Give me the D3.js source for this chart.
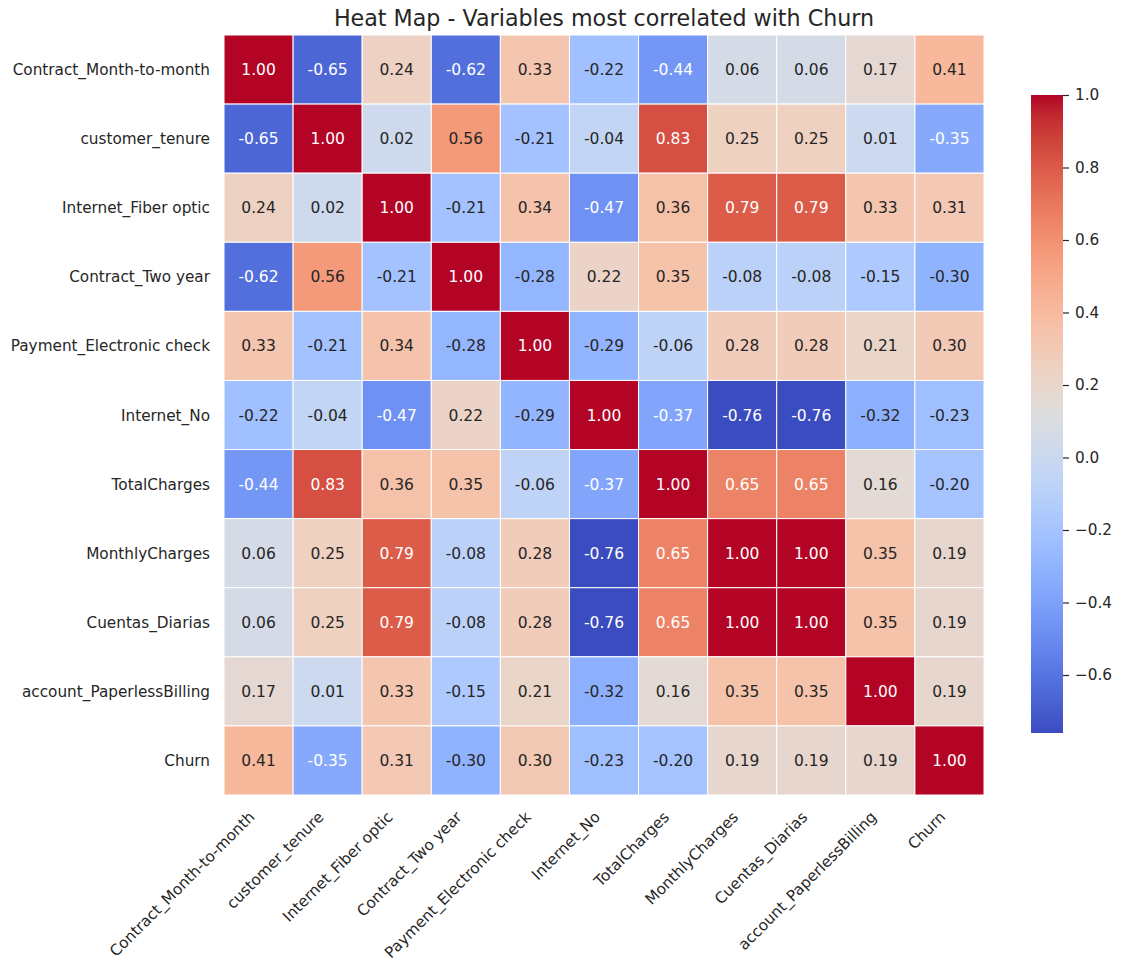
<!DOCTYPE html>
<html><head><meta charset="utf-8">
<script src="https://cdn.jsdelivr.net/npm/d3@7"></script>
<style>body{margin:0;background:#fff}svg{display:block;font-family:"DejaVu Sans",sans-serif}</style>
</head><body><svg id="c" width="1123" height="971"></svg>
<script>
const variables = ["Contract_Month-to-month","customer_tenure","Internet_Fiber optic","Contract_Two year","Payment_Electronic check","Internet_No","TotalCharges","MonthlyCharges","Cuentas_Diarias","account_PaperlessBilling","Churn"];
const rowContract = [1.00,-0.65,0.24,-0.62,0.33,-0.22,-0.44,0.06,0.06,0.17,0.41];
const rowTenure   = [-0.65,1.00,0.02,0.56,-0.21,-0.04,0.83,0.25,0.25,0.01,-0.35];
const rowFiber    = [0.24,0.02,1.00,-0.21,0.34,-0.47,0.36,0.79,0.79,0.33,0.31];
const rowTwoYear  = [-0.62,0.56,-0.21,1.00,-0.28,0.22,0.35,-0.08,-0.08,-0.15,-0.30];
const rowElectronic = [0.33,-0.21,0.34,-0.28,1.00,-0.29,-0.06,0.28,0.28,0.21,0.30];
const rowInternetNo = [-0.22,-0.04,-0.47,0.22,-0.29,1.00,-0.37,-0.76,-0.76,-0.32,-0.23];
const rowTotal    = [-0.44,0.83,0.36,0.35,-0.06,-0.37,1.00,0.65,0.65,0.16,-0.20];
const rowMonthly  = [0.06,0.25,0.79,-0.08,0.28,-0.76,0.65,1.00,1.00,0.35,0.19];
const rowDiarias  = [0.06,0.25,0.79,-0.08,0.28,-0.76,0.65,1.00,1.00,0.35,0.19];
const rowPaperless = [0.17,0.01,0.33,-0.15,0.21,-0.32,0.16,0.35,0.35,1.00,0.19];
const rowChurn    = [0.41,-0.35,0.31,-0.30,0.30,-0.23,-0.20,0.19,0.19,0.19,1.00];
const matrix = [rowContract,rowTenure,rowFiber,rowTwoYear,rowElectronic,rowInternetNo,rowTotal,rowMonthly,rowDiarias,rowPaperless,rowChurn];
const colorbarTicks = [-0.6,-0.4,-0.2,0.0,0.2,0.4,0.6,0.8,1.0];
const title = "Heat Map - Variables most correlated with Churn";

// coolwarm (Moreland) table
const cw = [[59,76,192],[68,90,204],[77,104,215],[87,117,225],[98,130,234],[108,142,241],[119,154,247],[130,165,251],[141,176,254],[152,185,255],[163,194,255],[174,201,253],[184,208,249],[194,213,244],[204,217,238],[213,219,230],[221,221,221],[229,216,209],[236,211,197],[241,204,185],[245,196,173],[247,187,160],[247,177,148],[247,166,135],[244,154,123],[241,141,111],[236,127,99],[229,112,88],[222,96,77],[213,80,66],[203,62,56],[192,40,47],[180,4,38]];
const cwScale = d3.scaleLinear().domain(cw.map((d,i)=>i/(cw.length-1))).range(cw.map(c=>d3.rgb(c[0],c[1],c[2]))).interpolate(d3.interpolateRgb).clamp(true);
const vmin = d3.min(matrix.flat()), vmax = d3.max(matrix.flat());
const norm = d3.scaleLinear().domain([vmin,vmax]).range([0,1]).clamp(true);
function colorOf(v){ let f=norm(v); let idx=Math.min(255,Math.floor(f*256)); return d3.rgb(cwScale(idx/255)); }
function lum(c){ const f=x=>{x/=255;return x<=0.03928?x/12.92:Math.pow((x+0.055)/1.055,2.4);}; return 0.2126*f(c.r)+0.7152*f(c.g)+0.0722*f(c.b); }

const svg = d3.select("#c");
const x0=224, y0=35, W=760, H=760;
const x = d3.scaleBand().domain(variables).range([x0,x0+W]).padding(0);
const y = d3.scaleBand().domain(variables).range([y0,y0+H]).padding(0);
const TXT="#262626";

const cells=[];
matrix.forEach((row,i)=>row.forEach((v,j)=>cells.push({r:variables[i],c:variables[j],v})));
const g=svg.append("g");
g.selectAll("rect").data(cells).join("rect")
  .attr("x",d=>x(d.c)).attr("y",d=>y(d.r)).attr("width",x.bandwidth()).attr("height",y.bandwidth())
  .attr("fill",d=>colorOf(d.v)).attr("stroke","#fff").attr("stroke-width",1);
g.selectAll("text").data(cells).join("text")
  .attr("x",d=>x(d.c)+x.bandwidth()/2).attr("y",d=>y(d.r)+y.bandwidth()/2)
  .attr("text-anchor","middle").attr("dy","0.36em").attr("font-size",15.5)
  .attr("fill",d=>lum(colorOf(d.v))>0.408?TXT:"#fff")
  .text(d=>d.v.toFixed(2));

// y labels
svg.append("g").selectAll("text").data(variables).join("text")
  .attr("x",210).attr("y",d=>y(d)+y.bandwidth()/2).attr("dy","0.36em")
  .attr("text-anchor","end").attr("font-size",15.28).attr("fill",TXT).text(d=>d);
// x labels
svg.append("g").selectAll("text").data(variables).join("text")
  .attr("transform",d=>`translate(${x(d)+x.bandwidth()/2-3},818) rotate(-45)`)
  .attr("text-anchor","end").attr("font-size",15.28).attr("fill",TXT).text(d=>d);

// title
svg.append("text").attr("x",x0+W/2).attr("y",26).attr("text-anchor","middle")
  .attr("font-size",22.2).attr("fill",TXT).text(title);

// colorbar
const cbX=1031, cbW=32;
const cb = d3.scaleLinear().domain([vmin,vmax]).range([733,95]);
const defs=svg.append("defs");
const grad=defs.append("linearGradient").attr("id","cbg").attr("x1",0).attr("y1",1).attr("x2",0).attr("y2",0);
d3.range(0,65).forEach(k=>{const t=k/64;grad.append("stop").attr("offset",t).attr("stop-color",cwScale(t));});
svg.append("rect").attr("x",cbX).attr("y",95).attr("width",cbW).attr("height",733-95).attr("fill","url(#cbg)");
const axis=d3.axisRight(cb).tickValues(colorbarTicks).tickSize(6).tickPadding(6).tickFormat(d=>d3.format(".1f")(d).replace("-","\u2212"));
const ag=svg.append("g").attr("transform",`translate(${cbX+cbW},0)`).call(axis);
ag.select(".domain").remove();
ag.selectAll("line").attr("stroke",TXT).attr("stroke-width",1.2);
ag.selectAll("text").attr("font-size",15.28).attr("fill",TXT).attr("font-family","DejaVu Sans");
</script></body></html>
